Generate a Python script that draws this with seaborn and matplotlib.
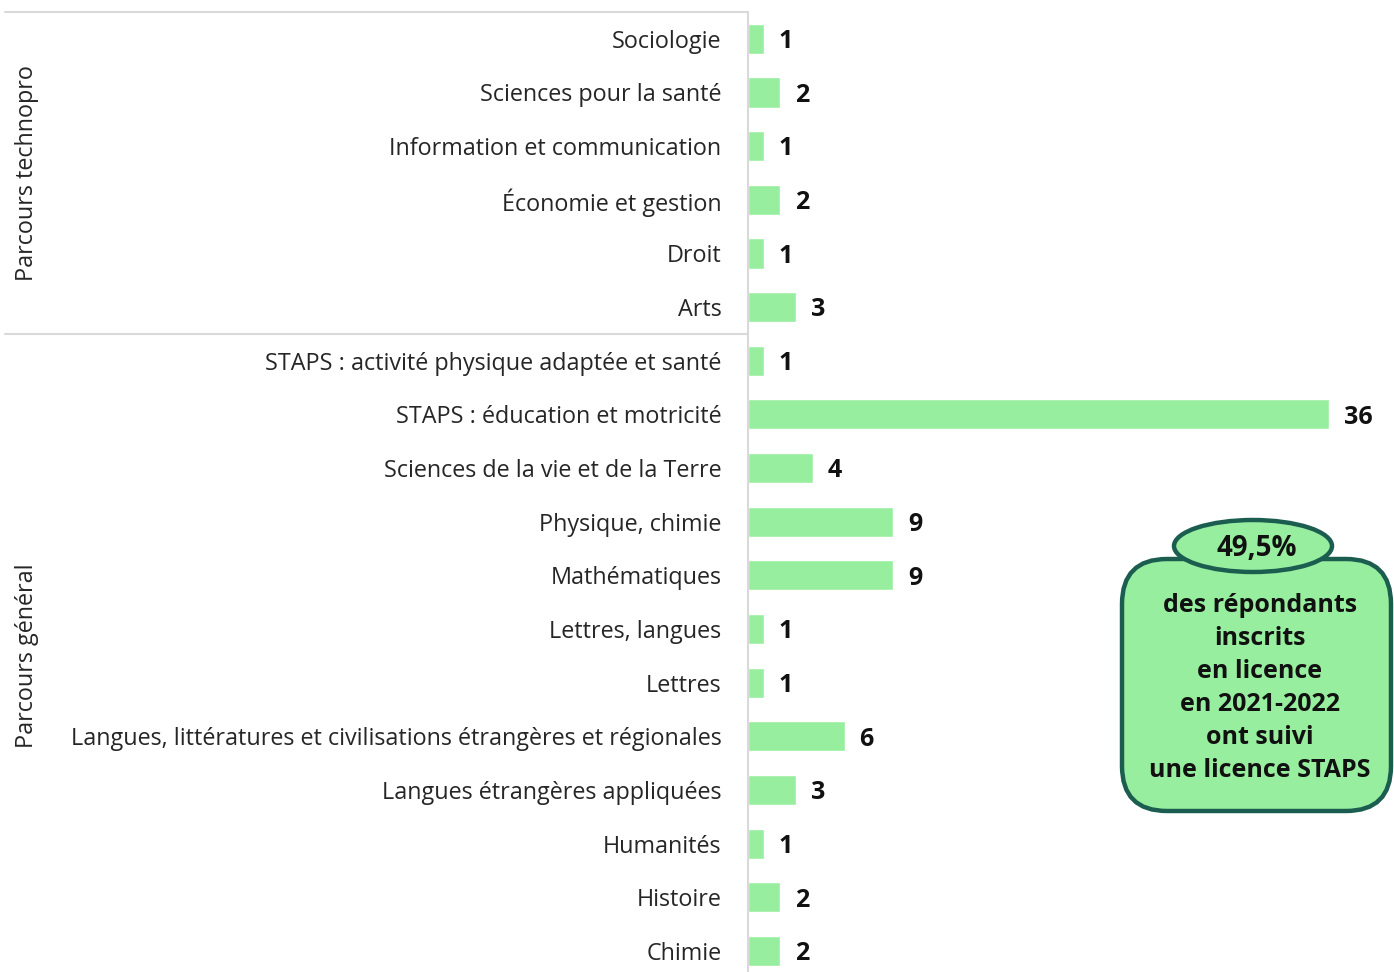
import matplotlib
matplotlib.use("Agg")
import matplotlib.pyplot as plt
import seaborn as sns
import pandas as pd
from matplotlib.patches import FancyBboxPatch, Ellipse

# Données
filieres = [
    "Sociologie", "Sciences pour la santé", "Information et communication",
    "Économie et gestion", "Droit", "Arts",
    "STAPS : activité physique adaptée et santé", "STAPS : éducation et motricité",
    "Sciences de la vie et de la Terre", "Physique, chimie", "Mathématiques",
    "Lettres, langues", "Lettres",
    "Langues, littératures et civilisations étrangères et régionales",
    "Langues étrangères appliquées", "Humanités", "Histoire", "Chimie",
]
effectifs = [1, 2, 1, 2, 1, 3, 1, 36, 4, 9, 9, 1, 1, 6, 3, 1, 2, 2]
parcours = ["Parcours technopro"] * 6 + ["Parcours général"] * 12

GREEN = "#98EE9F"
EDGE = "#1B5E50"
FONT = ["Open Sans", "DejaVu Sans"]

df = pd.DataFrame({"filiere": filieres, "effectif": effectifs, "parcours": parcours})

sns.set_style("white")
plt.rcParams["font.family"] = FONT

fig = plt.figure(figsize=(13.94, 9.72), dpi=100)
ax = fig.add_axes([748 / 1394, 0, 646 / 1394, 960 / 972])

sns.barplot(data=df, y="filiere", x="effectif", orient="h", color=GREEN,
            width=0.56, saturation=1, ax=ax)

ax.set_xlim(0, 40)
ax.set_ylim(17.39, -0.5)
ax.set_xlabel("")
ax.set_ylabel("")
ax.set_xticks([])
ax.tick_params(axis="y", length=0, pad=19, labelsize=16.8, labelcolor="#262626")
for s in ["top", "right", "bottom"]:
    ax.spines[s].set_visible(False)
ax.spines["left"].set_color("#d9d9d9")
ax.spines["left"].set_linewidth(1.5)

for i, v in enumerate(effectifs):
    ax.text(v + 0.9, i + 0.05, str(v), va="center", ha="left",
            fontsize=18, fontweight="bold", color="#111111")

# séparateurs de groupes
tr = ax.get_yaxis_transform()
for y in [-0.5, 5.5]:
    ax.plot([-1.15, 0], [y, y], transform=tr, color="#d9d9d9", lw=1.5, clip_on=False)

# libellés de groupes
groupes = ["Parcours technopro", "Parcours général"]
centres = [2.5, 11.5]
for g, c in zip(groupes, centres):
    ax.text(-1.116, c, g, transform=tr, rotation=90, va="center", ha="center",
            fontsize=16.8, color="#262626")

# encadré
ov = fig.add_axes([0, 0, 1, 1])
ov.set_xlim(0, 1394)
ov.set_ylim(972, 0)
ov.axis("off")
box = FancyBboxPatch((1122, 559), 269, 252, boxstyle="round,pad=0,rounding_size=45",
                     facecolor=GREEN, edgecolor=EDGE, lw=3.2)
ov.add_patch(box)
ell = Ellipse((1253, 546), 158, 52, facecolor=GREEN, edgecolor=EDGE, lw=3.2)
ov.add_patch(ell)
ov.text(1257, 548, "49,5%", ha="center", va="center", fontsize=20,
        fontweight="bold", color="#111111")
ov.text(1260, 688, "des répondants\ninscrits\nen licence\nen 2021-2022\nont suivi\nune licence STAPS",
        ha="center", va="center", fontsize=18, fontweight="bold",
        color="#111111", linespacing=1.42)

fig.savefig("out.png", dpi=100)
